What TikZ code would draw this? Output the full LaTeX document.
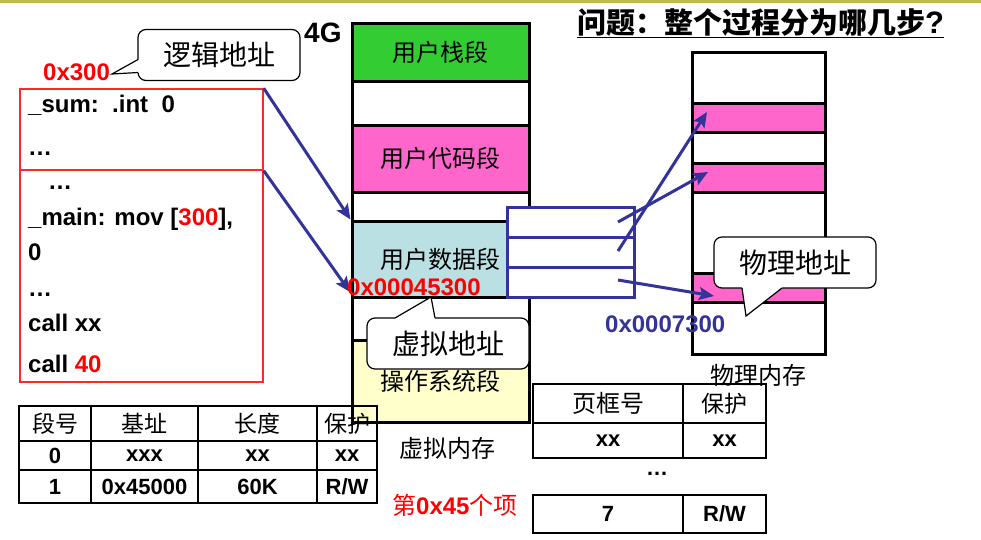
\documentclass[tikz,border=0pt]{standalone}
\usepackage{fontspec}
\setmainfont{Liberation Sans}
\newfontfamily\cjk{Noto Sans CJK SC}
\usetikzlibrary{arrows.meta}
\definecolor{segGreen}{RGB}{51,204,51}
\definecolor{segPink}{RGB}{255,102,204}
\definecolor{segBlue}{RGB}{187,224,227}
\definecolor{segYellow}{RGB}{255,255,204}
\definecolor{mapBlue}{RGB}{51,51,153}
\definecolor{boxRed}{RGB}{255,40,40}
\definecolor{barOlive}{RGB}{190,190,70}
\tikzset{
  vseg/.style={draw=black, line width=3pt, inner sep=0pt, minimum width=177pt, font=\cjk\fontsize{24}{28}\selectfont},
  pseg/.style={draw=black, line width=3pt, inner sep=0pt, minimum width=133pt},
  ptrow/.style={draw=mapBlue, line width=3pt, inner sep=0pt, minimum width=127pt, minimum height=30pt},
  codebox/.style={draw=boxRed, line width=1.5pt, inner sep=0pt, minimum width=243pt},
  codeline/.style={anchor=base west, inner sep=0pt, font=\bfseries\fontsize{24}{28}\selectfont},
  cjklabel/.style={inner sep=0pt, font=\cjk\fontsize{24}{28}\selectfont},
  bubble/.style={draw=black, line width=1.2pt, fill=white, rounded corners=8pt, inner sep=0pt,
    minimum width=162pt, minimum height=51pt, font=\cjk\fontsize{28}{32}\selectfont},
  tail/.style={draw=black, line width=1.2pt, line join=miter},
  maparrow/.style={draw=mapBlue, line width=3pt, -{Stealth[length=15pt,width=13pt,inset=3pt]}},
  cell/.style={draw=black, line width=1.6pt, inner sep=0pt},
  headtxt/.style={font=\cjk\fontsize{23}{26}\selectfont},
  datatxt/.style={font=\bfseries\fontsize{22}{26}\selectfont},
  addr/.style={anchor=base west, inner sep=0pt, font=\bfseries\fontsize{24}{28}\selectfont},
}
\begin{document}
\begin{tikzpicture}[x=1pt,y=-1pt]
\useasboundingbox[fill=white] (0,0) rectangle (981,539);

% header bar and question
\fill[barOlive] (0,0) rectangle (981,3);
\node[anchor=base west, inner sep=0pt, font=\cjk\bfseries\fontsize{29}{32}\selectfont] (question) at (577,33)
  {问题：整个过程分为哪几步{\rmfamily\bfseries\fontsize{31}{32}\selectfont ?}};
\draw[line width=1.5pt] (question.south west |- 0,37.5) -- (question.south east |- 0,37.5);

% virtual memory column
\node[vseg, fill=segGreen,  minimum height=58pt] (vstack) at (440.5,52)    {用户栈段};
\node[vseg, fill=white,     minimum height=44pt] (vgap1)  at (440.5,103)   {};
\node[vseg, fill=segPink,   minimum height=67pt] (vcode)  at (440.5,158.5) {用户代码段};
\node[vseg, fill=white,     minimum height=29pt] (vgap2)  at (440.5,206.5) {};
\node[vseg, fill=segBlue,   minimum height=76pt] (vdata)  at (440.5,259)   {用户数据段};
\node[vseg, fill=white,     minimum height=43pt] (vgap3)  at (440.5,318.5) {};
\node[vseg, fill=segYellow, minimum height=82pt] (vos)    at (440.5,381)   {操作系统段};
\node[anchor=base west, inner sep=0pt, font=\bfseries\fontsize{28}{30}\selectfont] (fourg) at (304,42) {4G};
\node[cjklabel] (vlabel) at (447,448) {虚拟内存};

% physical memory column
\node[pseg, fill=white,   minimum height=51pt] (p1) at (758.5,77.5)  {};
\node[pseg, fill=segPink, minimum height=29pt] (p2) at (758.5,117.5) {};
\node[pseg, fill=white,   minimum height=31pt] (p3) at (758.5,147.5) {};
\node[pseg, fill=segPink, minimum height=29pt] (p4) at (758.5,177.5) {};
\node[pseg, fill=white,   minimum height=81pt] (p5) at (758.5,232.5) {};
\node[pseg, fill=segPink, minimum height=29pt] (p6) at (758.5,287.5) {};
\node[pseg, fill=white,   minimum height=52pt] (p7) at (758.5,328)   {};
\node[cjklabel] (plabel) at (758,375) {物理内存};

% page table
\node[ptrow, fill=white] (pt1) at (570.5,222) {};
\node[ptrow, fill=white] (pt2) at (570.5,252) {};
\node[ptrow, fill=white] (pt3) at (570.5,282) {};

% program code
\node[codebox, minimum height=81pt]  (code1) at (141.5,129.5) {};
\node[codebox, minimum height=212pt] (code2) at (141.5,276)   {};
\node[codeline] (c1) at (28,112) {\_sum:\ \ .int\ \ 0};
\node[codeline] (c2) at (28,155) {…};
\node[codeline] (c3) at (48,189) {…};
\node[codeline] (c4) at (28,225) {\_main: mov [{\color{red}300}],};
\node[codeline] (c5) at (28,260) {0};
\node[codeline] (c6) at (28,296) {…};
\node[codeline] (c7) at (28,331) {call xx};
\node[codeline] (c8) at (28,372) {call {\color{red}40}};

% mapping arrows
\coordinate (s1) at (618,222);
\coordinate (s2) at (618,251);
\coordinate (s3) at (618,280);
\coordinate (e1) at (708,172);
\coordinate (e2) at (707,112);
\coordinate (e3) at (714,296);
\coordinate (dataIn) at (350,292);
\draw[maparrow] (code1.north east) -- (vdata.north west);
\draw[maparrow] (code1.south east) -- (dataIn);
\draw[maparrow] (s1) -- (e1);
\draw[maparrow] (s2) -- (e2);
\draw[maparrow] (s3) -- (e3);

% addresses
\node[addr, text=red] (la) at (43,80) {0x300};
\node[addr, text=red] (va) at (347,295) {0x00045300};
\node[addr, text=mapBlue] (pa) at (605,332) {0x0007300};

% callouts
\node[bubble] (logical) at (219,55) {逻辑地址};
\coordinate (tipL) at (112,74);
\fill[white] (tipL) -- (138,59.5) -- (141,59.5) -- (141,72.5) -- (138,72.5) -- cycle;
\draw[tail] (138,59.5) -- (tipL) -- (138,72.5);

\node[bubble] (virtual) at (448,343.5) {虚拟地址};
\coordinate (tipV) at (431,297);
\fill[white] (tipV) -- (395,318) -- (395,321) -- (435,321) -- (435,318) -- cycle;
\draw[tail] (395,318) -- (tipV) -- (435,318);

\node[bubble] (physical) at (795,262.5) {物理地址};
\coordinate (tipP) at (746,316);
\fill[white] (tipP) -- (742,288) -- (742,285) -- (782,285) -- (782,288) -- cycle;
\draw[tail] (742,288) -- (tipP) -- (782,288);

% segment table
\node[cell, minimum width=72pt,  minimum height=35pt, headtxt] (sh1) at (55,423.5)    {段号};
\node[cell, minimum width=107pt, minimum height=35pt, headtxt] (sh2) at (144.5,423.5) {基址};
\node[cell, minimum width=119pt, minimum height=35pt, headtxt] (sh3) at (257.5,423.5) {长度};
\node[cell, minimum width=60pt,  minimum height=35pt, headtxt] (sh4) at (347,423.5)   {保护};
\node[cell, minimum width=72pt,  minimum height=29pt, datatxt] (sa1) at (55,455.5)    {0};
\node[cell, minimum width=107pt, minimum height=29pt, datatxt] (sa2) at (144.5,455.5) {xxx};
\node[cell, minimum width=119pt, minimum height=29pt, datatxt] (sa3) at (257.5,455.5) {xx};
\node[cell, minimum width=60pt,  minimum height=29pt, datatxt] (sa4) at (347,455.5)   {xx};
\node[cell, minimum width=72pt,  minimum height=33pt, datatxt] (sb1) at (55,486.5)    {1};
\node[cell, minimum width=107pt, minimum height=33pt, datatxt] (sb2) at (144.5,486.5) {0x45000};
\node[cell, minimum width=119pt, minimum height=33pt, datatxt] (sb3) at (257.5,486.5) {60K};
\node[cell, minimum width=60pt,  minimum height=33pt, datatxt] (sb4) at (347,486.5)   {R/W};
\node[anchor=base west, inner sep=0pt, text=red, font=\cjk\fontsize{24}{28}\selectfont] (entry) at (392,514)
  {第{\rmfamily\bfseries 0x45}个项};

% page frame table
\node[cell, minimum width=150pt, minimum height=39pt, font=\cjk\fontsize{24}{28}\selectfont] (fh1) at (608,403.5) {页框号};
\node[cell, minimum width=83pt,  minimum height=39pt, font=\cjk\fontsize{23}{28}\selectfont] (fh2) at (724.5,403.5) {保护};
\node[cell, minimum width=150pt, minimum height=35pt, datatxt] (fa1) at (608,440.5)   {xx};
\node[cell, minimum width=83pt,  minimum height=35pt, datatxt] (fa2) at (724.5,440.5) {xx};
\node[inner sep=0pt, datatxt] (fdots) at (657,474) {…};
\node[cell, minimum width=150pt, minimum height=38pt, datatxt] (fb1) at (608,514)   {7};
\node[cell, minimum width=83pt,  minimum height=38pt, datatxt] (fb2) at (724.5,514) {R/W};
\end{tikzpicture}
\end{document}
